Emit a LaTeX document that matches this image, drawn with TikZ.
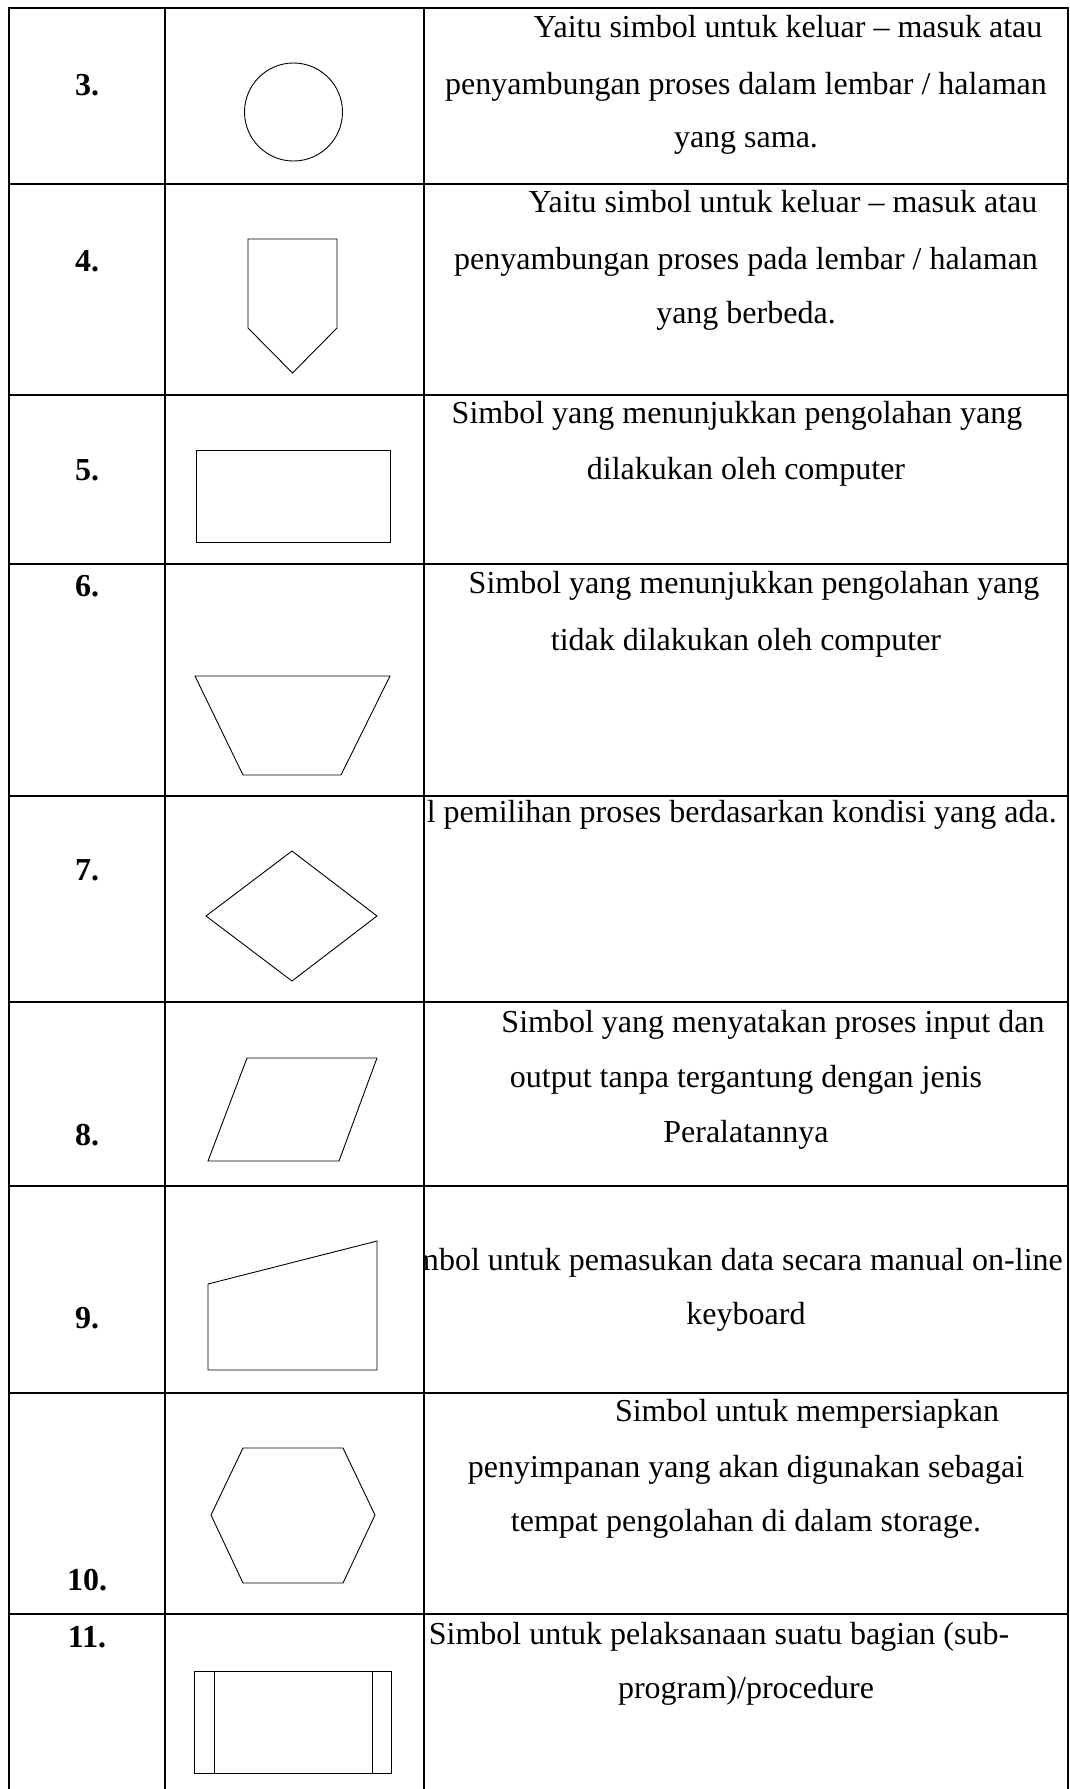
\documentclass[tikz,border=0pt]{standalone}
\usepackage{fontspec}
\setmainfont{Liberation Serif}
\usetikzlibrary{positioning}

\tikzset{
  tablerule/.style={line width=2pt, line cap=rect},
  sym/.style={line width=0.9pt, line join=miter},
  num/.style={anchor=base, inner sep=0pt, font=\fontsize{32}{38}\selectfont\bfseries},
  desc/.style={anchor=base, inner sep=0pt, font=\fontsize{32}{38}\selectfont},
}

\begin{document}
\begin{tikzpicture}[x=1pt,y=-1pt]
\useasboundingbox (0,0) rectangle (1070,1789);
% table rules
\foreach \r in {8,184,395,564,796,1002,1186,1393,1614}
  \draw[tablerule] (9,\r) -- (1068,\r);
\foreach \c in {9,165,424,1068}
  \draw[tablerule] (\c,8) -- (\c,1789);

% numbers
\node[num] (n3) at (87,95) {3.};
\node[num] (n4) at (87,271) {4.};
\node[num] (n5) at (87,480) {5.};
\node[num] (n6) at (87,596) {6.};
\node[num] (n7) at (87,880) {7.};
\node[num] (n8) at (87,1145) {8.};
\node[num] (n9) at (87,1328) {9.};
\node[num] (n10) at (87,1590) {10.};
\node[num] (n11) at (87,1647) {11.};

% symbols
\draw[sym] (293.5,112) circle [radius=49];
\draw[sym] (248,239) -- (337,239) -- (337,328) -- (292.5,373) -- (248,328) -- cycle;
\draw[sym] (196,450) rectangle (390,542);
\draw[sym] (195,676) -- (390,676) -- (341,775) -- (243,775) -- cycle;
\draw[sym] (292,851) -- (377,916) -- (292,981) -- (206,916) -- cycle;
\draw[sym] (247,1058) -- (377,1058) -- (339,1161) -- (208,1161) -- cycle;
\draw[sym] (208,1284) -- (377,1241) -- (377,1370) -- (208,1370) -- cycle;
\draw[sym] (243,1448) -- (343,1448) -- (375,1515) -- (343,1583) -- (243,1583) -- (211,1515) -- cycle;
\draw[sym] (194,1671) rectangle (391,1773);
\draw[sym] (214,1671) -- (214,1773) (372,1671) -- (372,1773);

% descriptions
\node[desc] (d3a) at (788,37) {Yaitu simbol untuk keluar -- masuk atau};
\node[desc] (d3b) at (746,94) {penyambungan proses dalam lembar / halaman};
\node[desc] (d3c) at (746,147) {yang sama.};

\node[desc] (d4a) at (783,212) {Yaitu simbol untuk keluar -- masuk atau};
\node[desc] (d4b) at (746,269) {penyambungan proses pada lembar / halaman};
\node[desc] (d4c) at (746,323) {yang berbeda.};

\node[desc] (d5a) at (737,423) {Simbol yang menunjukkan pengolahan yang};
\node[desc] (d5b) at (746,479) {dilakukan oleh computer};

\node[desc] (d6a) at (754,593) {Simbol yang menunjukkan pengolahan yang};
\node[desc] (d6b) at (746,650) {tidak dilakukan oleh computer};

\begin{scope}
\clip (425,796) rectangle (1067,1393);
\node[desc, anchor=base east] (d7a) at (1057,822) {l pemilihan proses berdasarkan kondisi yang ada.};
\node[desc, anchor=base east] (d9a) at (1063,1270) {mbol untuk pemasukan data secara manual on-line};
\end{scope}

\node[desc] (d8a) at (773,1032) {Simbol yang menyatakan proses input dan};
\node[desc] (d8b) at (746,1087) {output tanpa tergantung dengan jenis};
\node[desc] (d8c) at (746,1142) {Peralatannya};

\node[desc] (d9b) at (746,1324) {keyboard};

\node[desc] (d10a) at (807,1421) {Simbol untuk mempersiapkan};
\node[desc] (d10b) at (746,1477) {penyimpanan yang akan digunakan sebagai};
\node[desc] (d10c) at (746,1531) {tempat pengolahan di dalam storage.};

\node[desc] (d11a) at (719,1644) {Simbol untuk pelaksanaan suatu bagian (sub-};
\node[desc] (d11b) at (746,1698) {program)/procedure};
\end{tikzpicture}
\end{document}
